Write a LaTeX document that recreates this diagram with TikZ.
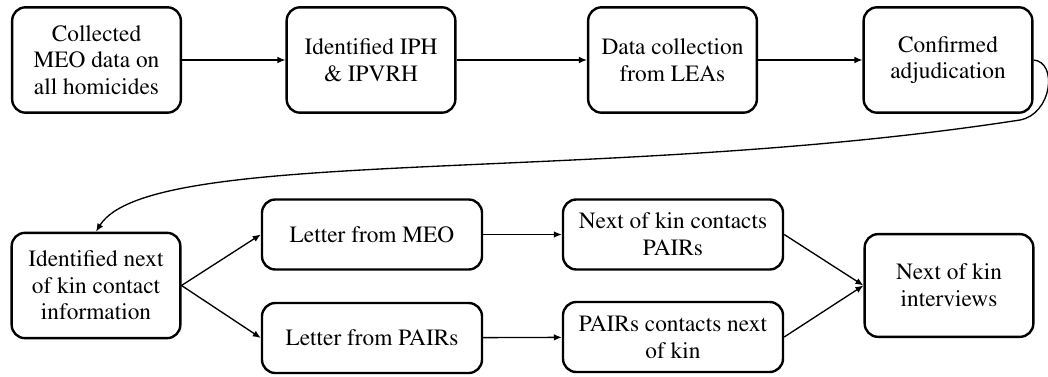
\documentclass[tikz,border=0pt]{standalone}
\usepackage[T1]{fontenc}
\usepackage{times}
\usetikzlibrary{arrows.meta}

\tikzset{
  box/.style={draw, line width=1.8pt, rounded corners=10pt, align=center,
    font=\fontsize{17.5}{20}\selectfont, inner sep=2pt},
  tallbox/.style={box, minimum width=126.5pt, minimum height=79pt},
  widebox/.style={box, minimum width=165pt, minimum height=52.5pt},
  conn/.style={line width=1pt, -{Latex[length=6pt,width=5pt]}}
}

\begin{document}
\begin{tikzpicture}[x=0.75pt,y=-0.75pt]
 \useasboundingbox (0,0) rectangle (1048,377);

 % top row
 \node[tallbox] (collect) at (96.5,60) {Collected\\MEO data on\\all homicides};
 \node[tallbox] (ident) at (371,60) {Identified IPH\\\& IPVRH};
 \node[tallbox] (lea) at (672.5,60) {Data collection\\from LEAs};
 \node[tallbox] (adjud) at (948,60) {Confirmed\\adjudication};

 % bottom row
 \node[tallbox] (kininfo) at (96,285.5) {Identified next\\of kin contact\\information};
 \node[widebox] (lmeo) at (372,234.5) {Letter from MEO};
 \node[widebox] (lpairs) at (372,338) {Letter from PAIRs};
 \node[widebox] (kinpairs) at (673,234.5) {Next of kin contacts\\PAIRs};
 \node[widebox] (pairskin) at (673,337) {PAIRs contacts next\\of kin};
 \node[tallbox, minimum height=77pt] (interv) at (949,285.5) {Next of kin\\interviews};

 \draw[conn] (collect) -- (ident);
 \draw[conn] (ident) -- (lea);
 \draw[conn] (lea) -- (adjud);
 \draw[conn] (adjud.east) .. controls (1058,62) and (1052,114) .. (1020,120)
   .. controls (600,185) and (150,145) .. (kininfo.north); % wrap to next row
 \draw[conn] (kininfo.east) -- (lmeo.west);
 \draw[conn] (kininfo.east) -- (lpairs.west);
 \draw[conn] (lmeo) -- (kinpairs);
 \draw[conn] (lpairs) -- (pairskin);
 \draw[conn] (kinpairs.east) -- (interv.west);
 \draw[conn] (pairskin.east) -- (interv.west);

\end{tikzpicture}
\end{document}
